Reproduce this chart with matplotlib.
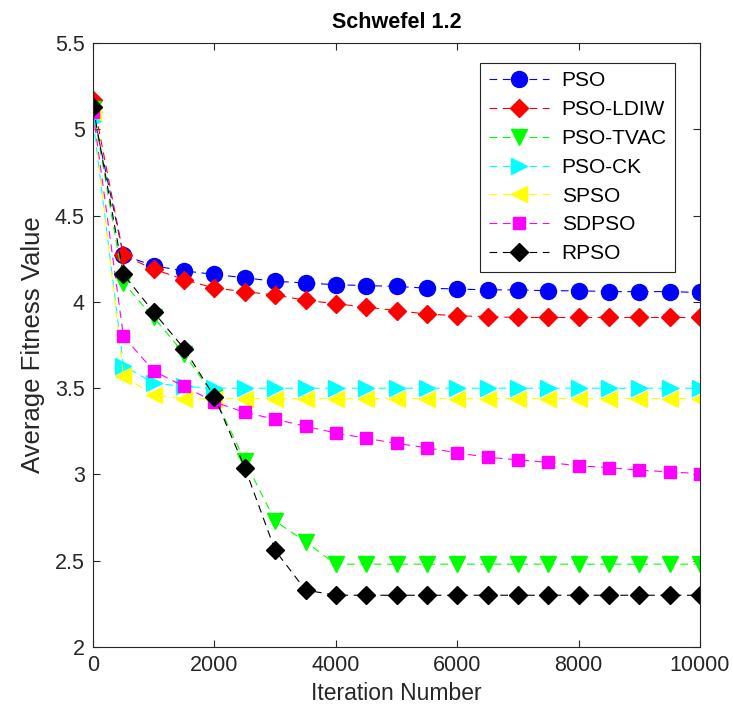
import numpy as np
import matplotlib.pyplot as plt

plt.rcParams['font.family'] = ['Liberation Sans', 'DejaVu Sans']

iters = np.arange(0, 10001, 500)

pso = [5.10, 4.27, 4.21, 4.18, 4.16, 4.14, 4.12, 4.11, 4.10, 4.095, 4.09, 4.08,
       4.075, 4.07, 4.07, 4.065, 4.065, 4.06, 4.06, 4.06, 4.055]
pso_ldiw = [5.17, 4.27, 4.19, 4.13, 4.08, 4.06, 4.04, 4.01, 3.99, 3.97, 3.95, 3.93,
            3.92, 3.915, 3.91, 3.91, 3.91, 3.91, 3.91, 3.91, 3.91]
pso_tvac = [5.12, 4.11, 3.91, 3.70, 3.45, 3.08, 2.73, 2.61, 2.48, 2.48, 2.48, 2.48,
            2.48, 2.48, 2.48, 2.48, 2.48, 2.48, 2.48, 2.48, 2.48]
pso_ck = [5.05, 3.63, 3.53, 3.51, 3.50, 3.50, 3.50, 3.50, 3.50, 3.50, 3.50, 3.50,
          3.50, 3.50, 3.50, 3.50, 3.50, 3.50, 3.50, 3.50, 3.50]
spso = [5.10, 3.57, 3.46, 3.44, 3.44, 3.44, 3.44, 3.44, 3.44, 3.44, 3.44, 3.44,
        3.44, 3.44, 3.44, 3.44, 3.44, 3.44, 3.44, 3.44, 3.44]
sdpso = [5.10, 3.80, 3.60, 3.51, 3.42, 3.36, 3.32, 3.28, 3.24, 3.21, 3.18, 3.155,
         3.125, 3.10, 3.085, 3.07, 3.05, 3.04, 3.025, 3.015, 3.005]
rpso = [5.13, 4.16, 3.94, 3.73, 3.45, 3.04, 2.56, 2.33, 2.30, 2.30, 2.30, 2.30,
        2.30, 2.30, 2.30, 2.30, 2.30, 2.30, 2.30, 2.30, 2.30]

names = ['PSO', 'PSO-LDIW', 'PSO-TVAC', 'PSO-CK', 'SPSO', 'SDPSO', 'RPSO']
data = [pso, pso_ldiw, pso_tvac, pso_ck, spso, sdpso, rpso]
colors = ['#0000ff', '#ff0000', '#00ff00', '#00ffff', '#ffff00', '#ff00ff', '#000000']
markers = ['o', 'D', 'v', '>', '<', 's', 'D']
msizes = [11.5, 9.5, 11.5, 11.5, 11.5, 8.5, 9.5]

fig = plt.figure(figsize=(7.33, 7.2), dpi=100)
ax = fig.add_axes([0.127, 0.1014, 0.828, 0.8386])

for name, vals, col, mk, ms in zip(names, data, colors, markers, msizes):
    ax.plot(iters, vals, color=col, marker=mk, markersize=ms, linewidth=0.8,
            linestyle=(0, (7, 5)), label=name)

ax.set_xlim(0, 10000)
ax.set_ylim(2, 5.5)
ax.set_xticks(np.arange(0, 10001, 2000))
ax.set_yticks(np.arange(2, 5.51, 0.5))
ax.set_yticklabels(['2', '2.5', '3', '3.5', '4', '4.5', '5', '5.5'])
ax.tick_params(direction='in', top=True, right=True, labelsize=15.5, length=5,
               colors='#262626', pad=6)
for sp in ax.spines.values():
    sp.set_color('#262626')
    sp.set_linewidth(0.8)

ax.set_xlabel('Iteration Number', fontsize=16.5, color='#262626', labelpad=4)
ax.set_ylabel('Average Fitness Value', fontsize=18.5, color='#262626', labelpad=7)
ax.set_title('Schwefel 1.2', fontsize=15.5, fontweight='bold', pad=11)

leg = ax.legend(loc='upper right', bbox_to_anchor=(0.959, 0.967), borderaxespad=0,
                fontsize=15, handlelength=2.9, handletextpad=0.6, fancybox=False,
                edgecolor='#262626', framealpha=1, borderpad=0.4, labelspacing=0.47)
leg.get_frame().set_linewidth(0.8)

fig.savefig('out.png', dpi=100)
